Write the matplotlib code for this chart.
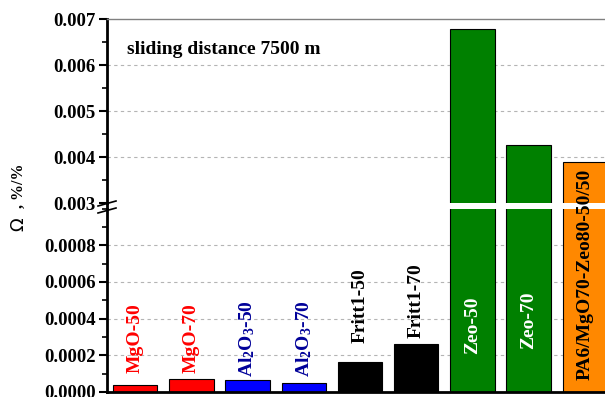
import numpy as np
import matplotlib
matplotlib.use('Agg')
import matplotlib.pyplot as plt
from matplotlib.ticker import MultipleLocator, FormatStrFormatter
from matplotlib.lines import Line2D

plt.rcParams['font.family'] = 'Liberation Serif'
plt.rcParams['font.weight'] = 'bold'
plt.rcParams['mathtext.default'] = 'regular'

# Samples and their wear (Omega) values
samples = ['MgO-50', 'MgO-70', 'Al$_2$O$_3$-50', 'Al$_2$O$_3$-70',
           'Fritt1-50', 'Fritt1-70', 'Zeo-50', 'Zeo-70',
           'PA6/MgO70-Zeo80-50/50']
omega = [0.000038, 0.000071, 0.000065, 0.000049,
         0.000165, 0.000260, 0.00678, 0.00426, 0.0039]

# Axis ticks for the two panels of the broken axis
top_ticks = [0.003, 0.004, 0.005, 0.006, 0.007]
bot_ticks = [0.0, 0.0002, 0.0004, 0.0006, 0.0008]

# Colours and label placement
bar_colors = ['#FF0000', '#FF0000', '#0000FF', '#0000FF', '#000000',
              '#000000', '#008000', '#008000', '#FF8800']
label_colors = ['#FF0000', '#FF0000', '#000099', '#000099', '#000000',
                '#000000', '#FFFFFF', '#FFFFFF', '#000000']
label_y = [0.000104, 0.000104, 0.000082, 0.000082, 0.000267,
           0.000294, 0.000365, 0.000392, 0.000065]
label_va = ['bottom'] * 6 + ['center', 'center', 'bottom']

W, H = 605, 397
fig = plt.figure(figsize=(W / 100, H / 100), dpi=100)
ax_top = fig.add_axes([107 / W, 194 / H, 506 / W, 184 / H])
ax_bot = fig.add_axes([107 / W, 5 / H, 506 / W, 183.5 / H])
ax_bot.set_zorder(1)
ax_top.patch.set_visible(False)

x = np.arange(len(samples))
grid_style = dict(color='#b4b4b4', linewidth=0.8, linestyle=(0, (3, 3)), zorder=0)

for ax in (ax_top, ax_bot):
    ax.bar(x, omega, width=0.79, color=bar_colors, edgecolor='black',
           linewidth=0.8, zorder=2)
    ax.set_xlim(-0.5, 8.5)
    ax.set_xticks([])
    ax.spines['right'].set_visible(False)
    ax.spines['left'].set_linewidth(2)
    ax.tick_params(axis='y', which='major', direction='out', length=6,
                   width=1.5, labelsize=13.5, pad=2)
    ax.tick_params(axis='y', which='minor', direction='out', length=3.5,
                   width=1.2)

# upper panel
ax_top.set_ylim(top_ticks[0], top_ticks[-1])
ax_top.set_yticks(top_ticks)
ax_top.yaxis.set_minor_locator(MultipleLocator(0.0005))
ax_top.yaxis.set_major_formatter(FormatStrFormatter('%.3f'))
ax_top.spines['bottom'].set_visible(False)
ax_top.spines['top'].set_color('#808080')
ax_top.spines['top'].set_linewidth(1)
for v in top_ticks[1:-1]:
    ax_top.axhline(v, **grid_style)

# lower panel
ax_bot.set_ylim(0, 0.001)
ax_bot.set_yticks(bot_ticks)
ax_bot.yaxis.set_minor_locator(MultipleLocator(0.0001))
ax_bot.yaxis.set_major_formatter(FormatStrFormatter('%.4f'))
ax_bot.spines['top'].set_visible(False)
ax_bot.spines['bottom'].set_linewidth(2)
for v in bot_ticks[1:]:
    ax_bot.axhline(v, **grid_style)

# bar names
for i in range(len(samples)):
    ax_bot.text(x[i], label_y[i], samples[i], rotation=90, ha='center',
                va=label_va[i], color=label_colors[i], fontsize=14,
                clip_on=False, zorder=5)

ax_top.text(-0.14, 0.00633, 'sliding distance 7500 m', fontsize=14,
            ha='left', va='center')

# y axis title
fig.text(18 / W, 1 - 224 / H, '\u03a9', family='DejaVu Sans',
         fontweight='normal', fontsize=13, rotation=90, ha='center', va='center')
fig.text(19 / W, 1 - 186 / H, ', %/%', fontsize=11.5, rotation=90,
         ha='center', va='center')

# join the left spine across the gap and draw the break marks
fig.add_artist(Line2D([107 / W, 107 / W], [188.5 / H, 194 / H],
                      color='black', linewidth=2))
for dy in (0, 7):
    fig.add_artist(Line2D([98 / W, 116 / W],
                          [1 - (206 + dy) / H, 1 - (201 + dy) / H],
                          color='black', linewidth=1.2))

fig.savefig('out.png', dpi=100)
